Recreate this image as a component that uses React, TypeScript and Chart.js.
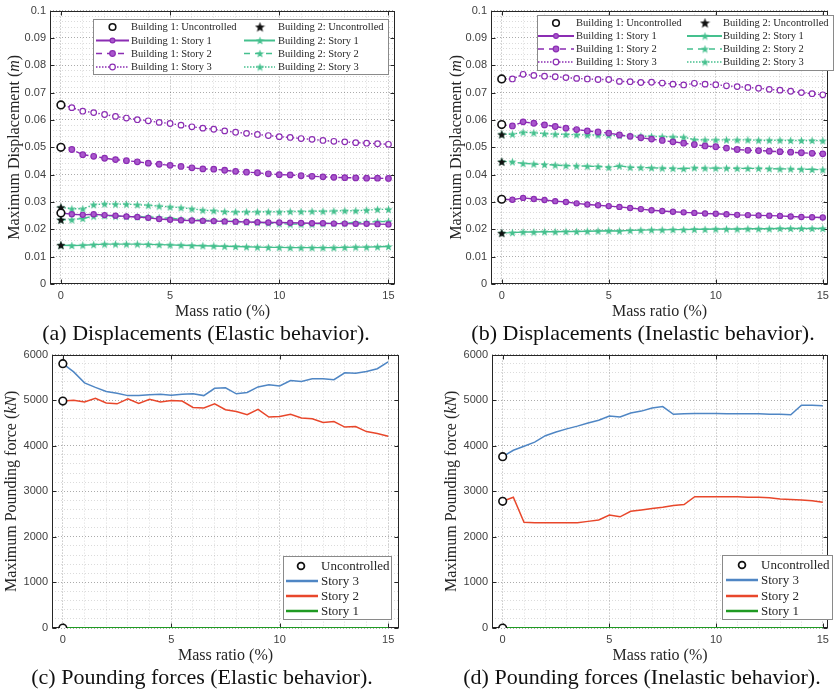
import React, { useEffect, useRef } from 'react';
import { Chart, registerables } from 'chart.js';

Chart.register(...registerables);

// ---------------- data ----------------
const MASS_RATIO = [0, 0.5, 1, 1.5, 2, 2.5, 3, 3.5, 4, 4.5, 5, 5.5, 6, 6.5, 7, 7.5, 8, 8.5, 9, 9.5, 10, 10.5, 11, 11.5, 12, 12.5, 13, 13.5, 14, 14.5, 15];
const X_TICKS = [0, 1, 2, 3, 4, 5, 6, 7, 8, 9, 10, 11, 12, 13, 14, 15];
const DISP_MAJOR_TICKS = [0, 0.01, 0.02, 0.03, 0.04, 0.05, 0.06, 0.07, 0.08, 0.09, 0.1];
const FORCE_MAJOR_TICKS = [0, 1000, 2000, 3000, 4000, 5000, 6000];

// (a) Displacements, elastic
const A_B1_UNC = [0.0655, 0.05, 0.026];
const A_B2_UNC = [0.028, 0.0235, 0.0142];
const A_B1_S1 = [0.0260, 0.0255, 0.0253, 0.0255, 0.0252, 0.0250, 0.0247, 0.0245, 0.0242, 0.0238, 0.0235, 0.0233, 0.0232, 0.0231, 0.0230, 0.0229, 0.0228, 0.0227, 0.0226, 0.0225, 0.0225, 0.0224, 0.0223, 0.0222, 0.0222, 0.0221, 0.0221, 0.0220, 0.0220, 0.0219, 0.0218];
const A_B1_S2 = [0.0500, 0.0492, 0.0473, 0.0467, 0.0460, 0.0455, 0.0451, 0.0447, 0.0442, 0.0438, 0.0434, 0.0430, 0.0425, 0.0421, 0.0420, 0.0416, 0.0412, 0.0409, 0.0407, 0.0403, 0.0400, 0.0399, 0.0396, 0.0394, 0.0392, 0.0390, 0.0389, 0.0388, 0.0387, 0.0387, 0.0386];
const A_B1_S3 = [0.0655, 0.0645, 0.0632, 0.0627, 0.0620, 0.0613, 0.0607, 0.0601, 0.0597, 0.0591, 0.0587, 0.0581, 0.0575, 0.0570, 0.0566, 0.0560, 0.0555, 0.0551, 0.0547, 0.0543, 0.0539, 0.0536, 0.0532, 0.0529, 0.0525, 0.0522, 0.0520, 0.0517, 0.0515, 0.0513, 0.0511];
const A_B2_S1 = [0.0142, 0.0141, 0.0142, 0.0144, 0.0146, 0.0146, 0.0146, 0.0146, 0.0145, 0.0144, 0.0143, 0.0142, 0.0141, 0.0140, 0.0139, 0.0138, 0.0137, 0.0136, 0.0135, 0.0134, 0.0134, 0.0133, 0.0133, 0.0133, 0.0133, 0.0133, 0.0134, 0.0135, 0.0135, 0.0136, 0.0137];
const A_B2_S2 = [0.0235, 0.0235, 0.0240, 0.0248, 0.0250, 0.0248, 0.0247, 0.0246, 0.0245, 0.0243, 0.0240, 0.0237, 0.0235, 0.0233, 0.0232, 0.0230, 0.0229, 0.0227, 0.0225, 0.0223, 0.0221, 0.0219, 0.0219, 0.0219, 0.0221, 0.0222, 0.0223, 0.0224, 0.0226, 0.0228, 0.0229];
const A_B2_S3 = [0.0280, 0.0275, 0.0275, 0.0290, 0.0293, 0.0292, 0.0292, 0.0290, 0.0288, 0.0285, 0.0282, 0.0279, 0.0275, 0.0270, 0.0268, 0.0265, 0.0264, 0.0264, 0.0264, 0.0264, 0.0264, 0.0265, 0.0265, 0.0266, 0.0266, 0.0267, 0.0268, 0.0268, 0.0270, 0.0273, 0.0273];

// (b) Displacements, inelastic
const B_B1_UNC = [0.075, 0.0583, 0.031];
const B_B2_UNC = [0.0547, 0.0447, 0.0186];
const B_B1_S1 = [0.0310, 0.0308, 0.0315, 0.0311, 0.0307, 0.0303, 0.0300, 0.0295, 0.0291, 0.0288, 0.0285, 0.0282, 0.0278, 0.0274, 0.0270, 0.0267, 0.0264, 0.0262, 0.0260, 0.0258, 0.0257, 0.0255, 0.0253, 0.0252, 0.0251, 0.0250, 0.0249, 0.0247, 0.0245, 0.0244, 0.0243];
const B_B1_S2 = [0.0582, 0.0578, 0.0593, 0.0588, 0.0582, 0.0576, 0.0570, 0.0565, 0.0560, 0.0556, 0.0552, 0.0545, 0.0540, 0.0535, 0.0530, 0.0525, 0.0520, 0.0515, 0.0510, 0.0505, 0.0502, 0.0497, 0.0492, 0.0489, 0.0488, 0.0486, 0.0484, 0.0482, 0.0480, 0.0478, 0.0476];
const B_B1_S3 = [0.0750, 0.0750, 0.0767, 0.0763, 0.0760, 0.0758, 0.0755, 0.0752, 0.0750, 0.0748, 0.0748, 0.0741, 0.0740, 0.0737, 0.0738, 0.0735, 0.0731, 0.0728, 0.0734, 0.0731, 0.0729, 0.0725, 0.0722, 0.0719, 0.0716, 0.0712, 0.0709, 0.0705, 0.0700, 0.0696, 0.0692];
const B_B2_S1 = [0.0187, 0.0188, 0.0190, 0.0190, 0.0191, 0.0191, 0.0192, 0.0192, 0.0193, 0.0194, 0.0195, 0.0194, 0.0196, 0.0197, 0.0198, 0.0198, 0.0199, 0.0199, 0.0200, 0.0200, 0.0201, 0.0201, 0.0201, 0.0202, 0.0202, 0.0202, 0.0203, 0.0203, 0.0203, 0.0203, 0.0203];
const B_B2_S2 = [0.0448, 0.0447, 0.0441, 0.0439, 0.0437, 0.0435, 0.0433, 0.0432, 0.0431, 0.0430, 0.0427, 0.0432, 0.0427, 0.0426, 0.0425, 0.0424, 0.0423, 0.0422, 0.0425, 0.0424, 0.0424, 0.0424, 0.0423, 0.0423, 0.0423, 0.0422, 0.0421, 0.0421, 0.0420, 0.0419, 0.0418];
const B_B2_S3 = [0.0548, 0.0548, 0.0555, 0.0553, 0.0550, 0.0548, 0.0547, 0.0546, 0.0545, 0.0545, 0.0544, 0.0543, 0.0542, 0.0541, 0.0540, 0.0539, 0.0538, 0.0537, 0.0528, 0.0527, 0.0527, 0.0527, 0.0527, 0.0527, 0.0526, 0.0526, 0.0526, 0.0525, 0.0525, 0.0525, 0.0524];

// (c) Pounding forces, elastic (kN)
const C_UNC = [5800, 4980, 0];
const C_S3 = [5800, 5620, 5380, 5280, 5190, 5150, 5100, 5100, 5120, 5130, 5110, 5130, 5140, 5100, 5260, 5270, 5140, 5170, 5290, 5340, 5310, 5430, 5410, 5470, 5470, 5450, 5600, 5590, 5630, 5690, 5840];
const C_S2 = [4980, 5000, 4960, 5040, 4940, 4920, 5030, 4930, 5020, 4960, 4990, 4980, 4840, 4830, 4920, 4790, 4750, 4680, 4800, 4630, 4640, 4690, 4610, 4590, 4510, 4530, 4410, 4420, 4310, 4270, 4210];
const C_S1 = [0, 0, 0, 0, 0, 0, 0, 0, 0, 0, 0, 0, 0, 0, 0, 0, 0, 0, 0, 0, 0, 0, 0, 0, 0, 0, 0, 0, 0, 0, 0];

// (d) Pounding forces, inelastic (kN)
const D_UNC = [3760, 2780, 0];
const D_S3 = [3760, 3900, 3990, 4080, 4220, 4300, 4370, 4430, 4500, 4560, 4650, 4630, 4720, 4760, 4830, 4860, 4690, 4700, 4710, 4710, 4710, 4700, 4700, 4700, 4700, 4690, 4690, 4680, 4890, 4890, 4880];
const D_S2 = [2780, 2870, 2320, 2310, 2310, 2310, 2310, 2310, 2340, 2370, 2480, 2440, 2560, 2590, 2620, 2650, 2690, 2710, 2880, 2880, 2880, 2880, 2880, 2870, 2870, 2860, 2830, 2820, 2810, 2790, 2760];
const D_S1 = [0, 0, 0, 0, 0, 0, 0, 0, 0, 0, 0, 0, 0, 0, 0, 0, 0, 0, 0, 0, 0, 0, 0, 0, 0, 0, 0, 0, 0, 0, 0];

// ---------------- styles ----------------
const SERIF = '"Times New Roman", "Liberation Serif", Times, serif';
const SANS = '"Liberation Sans", Arial, Helvetica, sans-serif';
const PURPLE = '#8b2db3';
const PURPLE_FILL = '#a957cc';
const GREEN = '#45c08e';
const BLUE = '#4f86c4';
const RED = '#e8472b';
const DGREEN = '#1f9a22';
const INK = '#262626';
const TICK_COLOR = '#404040';
const MAJOR_GRID = 'rgba(0,0,0,0.33)';
const MINOR_GRID = 'rgba(0,0,0,0.14)';

function makeStar(size: number, fill: string): HTMLCanvasElement {
  const c = document.createElement('canvas');
  c.width = size;
  c.height = size;
  const ctx = c.getContext('2d')!;
  const cx = size / 2;
  const cy = size / 2 + 0.4;
  const R = size / 2 - 0.2;
  const r = R * 0.42;
  ctx.beginPath();
  for (let i = 0; i < 10; i++) {
    const ang = -Math.PI / 2 + (i * Math.PI) / 5;
    const rad = i % 2 === 0 ? R : r;
    ctx.lineTo(cx + rad * Math.cos(ang), cy + rad * Math.sin(ang));
  }
  ctx.closePath();
  ctx.fillStyle = fill;
  ctx.fill();
  return c;
}

function minorTicks(majors: number[], sub: number): number[] {
  const out: number[] = [];
  for (let i = 0; i < majors.length; i++) {
    out.push(majors[i]);
    if (i < majors.length - 1) {
      const step = (majors[i + 1] - majors[i]) / sub;
      for (let k = 1; k < sub; k++) out.push(+(majors[i] + k * step).toFixed(6));
    }
  }
  return out;
}

function isIn(v: number, list: number[]) {
  return list.some((m) => Math.abs(m - v) < 1e-9);
}

function series(ys: number[]) {
  return MASS_RATIO.map((x, i) => ({ x, y: ys[i] }));
}
function atZero(ys: number[]) {
  return ys.map((y) => ({ x: MASS_RATIO[0], y }));
}

// -------------- plugins (per chart) --------------
function framePlugin(xMajor: number[], yMajor: number[]) {
  return {
    id: 'frame',
    beforeDatasetsDraw(chart: any) {
      const { ctx, chartArea: a, scales } = chart;
      ctx.save();
      ctx.strokeStyle = INK;
      ctx.lineWidth = 1;
      const L = Math.round(a.left) + 0.5;
      const T = Math.round(a.top) + 0.5;
      const R = Math.round(a.right) - 0.5;
      const B = Math.round(a.bottom) - 0.5;
      ctx.strokeRect(L, T, R - L, B - T);
      ctx.beginPath();
      const tl = 4;
      xMajor.forEach((v) => {
        const px = Math.round(scales.x.getPixelForValue(v)) + 0.5;
        ctx.moveTo(px, B);
        ctx.lineTo(px, B - tl);
        ctx.moveTo(px, T);
        ctx.lineTo(px, T + tl);
      });
      yMajor.forEach((v) => {
        const py = Math.round(scales.y.getPixelForValue(v)) + 0.5;
        ctx.moveTo(L, py);
        ctx.lineTo(L + tl, py);
        ctx.moveTo(R, py);
        ctx.lineTo(R - tl, py);
      });
      ctx.stroke();
      ctx.restore();
    },
  };
}

type Part = { t: string; i?: boolean };
function yTitlePlugin(parts: Part[], cx: number) {
  return {
    id: 'ytitle',
    afterDraw(chart: any) {
      const { ctx, chartArea: a } = chart;
      ctx.save();
      ctx.translate(cx, (a.top + a.bottom) / 2);
      ctx.rotate(-Math.PI / 2);
      ctx.textBaseline = 'middle';
      ctx.textAlign = 'left';
      ctx.fillStyle = INK;
      const fonts = parts.map((p) => `${p.i ? 'italic ' : ''}16px ${SERIF}`);
      let total = 0;
      parts.forEach((p, k) => {
        ctx.font = fonts[k];
        total += ctx.measureText(p.t).width;
      });
      let x = -total / 2;
      parts.forEach((p, k) => {
        ctx.font = fonts[k];
        ctx.fillText(p.t, x, 0);
        x += ctx.measureText(p.t).width;
      });
      ctx.restore();
    },
  };
}

type LegItem = {
  text: string;
  col: number;
  row: number;
  color?: string;
  lw?: number;
  dash?: number[];
  marker?: 'circle' | HTMLCanvasElement;
  r?: number;
  fill?: string;
  stroke?: string;
  bw?: number;
};
type LegSpec = {
  box: [number, number, number, number];
  rows: number[];
  cols: { s0: number; s1: number; m: number; t: number }[];
  font: number;
  items: LegItem[];
};
function legendPlugin(spec: LegSpec) {
  return {
    id: 'boxlegend',
    afterDatasetsDraw(chart: any) {
      const ctx = chart.ctx;
      const [bx, by, bw, bh] = spec.box;
      ctx.save();
      ctx.fillStyle = '#ffffff';
      ctx.fillRect(bx, by, bw, bh);
      ctx.strokeStyle = '#8a8a8a';
      ctx.lineWidth = 1;
      ctx.strokeRect(bx + 0.5, by + 0.5, bw, bh);
      ctx.font = `${spec.font}px ${SERIF}`;
      ctx.textBaseline = 'middle';
      ctx.textAlign = 'left';
      spec.items.forEach((it) => {
        const c = spec.cols[it.col];
        const y = spec.rows[it.row];
        if (it.lw) {
          ctx.save();
          ctx.strokeStyle = it.color;
          ctx.lineWidth = it.lw;
          ctx.setLineDash(it.dash || []);
          ctx.beginPath();
          ctx.moveTo(c.s0, y);
          ctx.lineTo(c.s1, y);
          ctx.stroke();
          ctx.restore();
        }
        if (it.marker === 'circle') {
          ctx.save();
          ctx.beginPath();
          ctx.arc(c.m, y, it.r || 3, 0, Math.PI * 2);
          ctx.fillStyle = it.fill || '#fff';
          ctx.fill();
          ctx.lineWidth = it.bw || 1.2;
          ctx.strokeStyle = it.stroke || INK;
          ctx.stroke();
          ctx.restore();
        } else if (it.marker) {
          const img = it.marker as HTMLCanvasElement;
          ctx.drawImage(img, c.m - img.width / 2, y - img.height / 2);
        }
        ctx.fillStyle = INK;
        ctx.fillText(it.text, c.t, y + 0.5);
      });
      ctx.restore();
    },
  };
}

// -------------- chart config builder --------------
type PanelCfg = {
  datasets: any[];
  xMax: number;
  yMax: number;
  yMajor: number[];
  yTicks: number[];
  yFmt: (v: number) => string;
  yAxisWidth: number;
  padRight: number;
  yTitle: Part[];
  yTitleX: number;
  legend: LegSpec;
};

function buildConfig(p: PanelCfg): any {
  return {
    type: 'scatter',
    data: { datasets: p.datasets },
    plugins: [framePlugin([0, 5, 10, 15], p.yMajor), legendPlugin(p.legend), yTitlePlugin(p.yTitle, p.yTitleX)],
    options: {
      animation: false,
      responsive: false,
      maintainAspectRatio: false,
      events: [],
      layout: { padding: { top: 10, right: p.padRight, left: 0, bottom: 0 } },
      plugins: { legend: { display: false }, tooltip: { enabled: false } },
      scales: {
        x: {
          type: 'linear',
          min: -0.5,
          max: p.xMax,
          afterBuildTicks: (s: any) => {
            s.ticks = X_TICKS.map((v) => ({ value: v }));
          },
          afterFit: (s: any) => {
            s.height = 38;
          },
          ticks: {
            autoSkip: false,
            maxRotation: 0,
            padding: 5,
            color: TICK_COLOR,
            font: { family: SANS, size: 11 },
            callback: (v: number) => (isIn(v, [0, 5, 10, 15]) ? String(v) : ''),
          },
          grid: {
            drawTicks: false,
            lineWidth: 1,
            color: (c: any) => (c.tick && isIn(c.tick.value, [0, 5, 10, 15]) ? MAJOR_GRID : MINOR_GRID),
          },
          border: { display: false, dash: [1, 2] },
          title: {
            display: true,
            text: 'Mass ratio (%)',
            color: INK,
            font: { family: SERIF, size: 16 },
            padding: { top: 0, bottom: 1 },
          },
        },
        y: {
          type: 'linear',
          min: 0,
          max: p.yMax,
          afterBuildTicks: (s: any) => {
            s.ticks = p.yTicks.map((v) => ({ value: v }));
          },
          afterFit: (s: any) => {
            s.width = p.yAxisWidth;
          },
          ticks: {
            autoSkip: false,
            padding: 4,
            color: TICK_COLOR,
            font: { family: SANS, size: 11 },
            callback: (v: number) => (isIn(v, p.yMajor) ? p.yFmt(v) : ''),
          },
          grid: {
            drawTicks: false,
            lineWidth: 1,
            color: (c: any) => (c.tick && isIn(c.tick.value, p.yMajor) ? MAJOR_GRID : MINOR_GRID),
          },
          border: { display: false, dash: [1, 2] },
          title: { display: false },
        },
      },
    },
  };
}

function lineDs(label: string, ys: number[], color: string, dash: number[], marker: any, fill: string, radius: number, width = 1.4) {
  return {
    label,
    data: series(ys),
    showLine: true,
    borderColor: color,
    backgroundColor: color,
    borderWidth: width,
    borderDash: dash,
    pointStyle: marker,
    pointRadius: radius,
    pointBackgroundColor: fill,
    pointBorderColor: color,
    pointBorderWidth: 1.2,
    tension: 0,
    fill: false,
  };
}
function uncCircle(label: string, ys: number[], r = 3.8) {
  return {
    label,
    data: atZero(ys),
    showLine: false,
    pointStyle: 'circle',
    pointRadius: r,
    pointBorderWidth: 1.6,
    pointBorderColor: '#111',
    pointBackgroundColor: '#ffffff',
  };
}
function uncStar(label: string, ys: number[], star: HTMLCanvasElement) {
  return {
    label,
    data: atZero(ys),
    showLine: false,
    pointStyle: star,
    pointRadius: 4,
    pointBorderColor: '#111',
    pointBackgroundColor: '#111',
  };
}

const DOTTED = [1.5, 2];
const DASHED = [5, 3];

function dispPanel(which: 'a' | 'b'): any {
  const gStar = makeStar(9, GREEN);
  const kStar = makeStar(10, '#111');
  const gStarL = makeStar(9, GREEN);
  const kStarL = makeStar(11, '#111');
  const a = which === 'a';
  const B1U = a ? A_B1_UNC : B_B1_UNC;
  const B2U = a ? A_B2_UNC : B_B2_UNC;
  const datasets = [
    uncCircle('Building 1: Uncontrolled', B1U),
    uncStar('Building 2: Uncontrolled', B2U, kStar),
    lineDs('Building 1: Story 1', a ? A_B1_S1 : B_B1_S1, PURPLE, [], 'circle', PURPLE_FILL, 2.6),
    lineDs('Building 1: Story 2', a ? A_B1_S2 : B_B1_S2, PURPLE, DASHED, 'circle', PURPLE_FILL, 2.8),
    lineDs('Building 1: Story 3', a ? A_B1_S3 : B_B1_S3, PURPLE, DOTTED, 'circle', '#ffffff', 2.8),
    lineDs('Building 2: Story 1', a ? A_B2_S1 : B_B2_S1, GREEN, [], gStar, GREEN, 4),
    lineDs('Building 2: Story 2', a ? A_B2_S2 : B_B2_S2, GREEN, DASHED, gStar, GREEN, 4),
    lineDs('Building 2: Story 3', a ? A_B2_S3 : B_B2_S3, GREEN, DOTTED, gStar, GREEN, 4),
  ];
  const legend: LegSpec = a
    ? {
        box: [93, 19, 295, 55],
        rows: [27, 40.5, 53.5, 67],
        cols: [
          { s0: 96, s1: 129, m: 112.5, t: 131 },
          { s0: 244, s1: 275, m: 260, t: 278 },
        ],
        font: 10.5,
        items: [],
      }
    : {
        box: [117, 15, 296, 55],
        rows: [23, 36, 49, 62],
        cols: [
          { s0: 118, s1: 154, m: 136, t: 156 },
          { s0: 267, s1: 302, m: 285, t: 303 },
        ],
        font: 10.5,
        items: [],
      };
  legend.items = [
    { text: datasets[0].label, col: 0, row: 0, marker: 'circle', r: 3.3, fill: '#fff', stroke: '#111', bw: 1.6 },
    { text: datasets[2].label, col: 0, row: 1, color: PURPLE, lw: 2, marker: 'circle', r: 2.4, fill: PURPLE_FILL, stroke: PURPLE },
    { text: datasets[3].label, col: 0, row: 2, color: PURPLE, lw: 1.6, dash: [6, 5], marker: 'circle', r: 2.8, fill: PURPLE_FILL, stroke: PURPLE },
    { text: datasets[4].label, col: 0, row: 3, color: PURPLE, lw: 1.4, dash: [1.5, 1.5], marker: 'circle', r: 2.8, fill: '#fff', stroke: PURPLE },
    { text: datasets[1].label, col: 1, row: 0, marker: kStarL },
    { text: datasets[5].label, col: 1, row: 1, color: GREEN, lw: 2, marker: gStarL },
    { text: datasets[6].label, col: 1, row: 2, color: GREEN, lw: 1.6, dash: [6, 5], marker: gStarL },
    { text: datasets[7].label, col: 1, row: 3, color: GREEN, lw: 1.4, dash: [1.5, 1.5], marker: gStarL },
  ];
  return buildConfig({
    datasets,
    xMax: a ? 15.3 : 15.25,
    yMax: 0.1,
    yMajor: DISP_MAJOR_TICKS,
    yTicks: minorTicks(DISP_MAJOR_TICKS, 5),
    yFmt: (v) => String(Math.round(v * 100) / 100),
    yAxisWidth: a ? 50 : 71,
    padRight: a ? 25 : 2,
    yTitle: [{ t: 'Maximum Displacement (' }, { t: 'm', i: true }, { t: ')' }],
    yTitleX: a ? 15 : 37,
    legend,
  });
}

function forcePanel(which: 'c' | 'd'): any {
  const c = which === 'c';
  const datasets = [
    uncCircle('Uncontrolled', c ? C_UNC : D_UNC, 3.8),
    { ...lineDs('Story 3', c ? C_S3 : D_S3, BLUE, [], 'circle', BLUE, 0, 1.5) },
    { ...lineDs('Story 2', c ? C_S2 : D_S2, RED, [], 'circle', RED, 0, 1.5) },
    { ...lineDs('Story 1', c ? C_S1 : D_S1, DGREEN, [], 'circle', DGREEN, 0, 1.8) },
  ];
  const legend: LegSpec = c
    ? {
        box: [283, 212, 108, 63],
        rows: [222, 237, 252, 267],
        cols: [{ s0: 286, s1: 318, m: 301, t: 321 }],
        font: 13,
        items: [],
      }
    : {
        box: [302, 211, 110, 64],
        rows: [221, 236, 252, 267],
        cols: [{ s0: 306, s1: 338, m: 322, t: 341 }],
        font: 13,
        items: [],
      };
  legend.items = [
    { text: datasets[0].label, col: 0, row: 0, marker: 'circle', r: 3.4, fill: '#fff', stroke: '#111', bw: 1.8 },
    { text: datasets[1].label, col: 0, row: 1, color: BLUE, lw: 2.5 },
    { text: datasets[2].label, col: 0, row: 2, color: RED, lw: 2.5 },
    { text: datasets[3].label, col: 0, row: 3, color: DGREEN, lw: 2.5 },
  ];
  return buildConfig({
    datasets,
    xMax: c ? 15.5 : 15.25,
    yMax: 6000,
    yMajor: FORCE_MAJOR_TICKS,
    yTicks: minorTicks(FORCE_MAJOR_TICKS, 5),
    yFmt: (v) => String(v),
    yAxisWidth: c ? 52 : 72,
    padRight: c ? 21 : 1,
    yTitle: [{ t: 'Maximum Pounding force (' }, { t: 'kN', i: true }, { t: ')' }],
    yTitleX: c ? 12 : 32,
    legend,
  });
}

function Panel(props: { left: number; top: number; width: number; height: number; build: () => any }) {
  const ref = useRef<HTMLCanvasElement | null>(null);
  useEffect(() => {
    const chart = new Chart(ref.current as HTMLCanvasElement, props.build());
    return () => chart.destroy();
  }, []);
  return (
    <canvas
      ref={ref}
      width={props.width}
      height={props.height}
      style={{ position: 'absolute', left: props.left, top: props.top, width: props.width, height: props.height }}
    />
  );
}

function Caption(props: { cx: number; top: number; text: string }) {
  return (
    <div
      style={{
        position: 'absolute',
        left: props.cx - 220,
        top: props.top,
        width: 440,
        textAlign: 'center',
        fontFamily: SERIF,
        fontSize: 22,
        lineHeight: '22px',
        color: '#111',
        whiteSpace: 'nowrap',
      }}
    >
      {props.text}
    </div>
  );
}

export default function App() {
  return (
    <div style={{ position: 'absolute', left: 0, top: 0, width: 834, height: 692, background: '#fff', overflow: 'hidden' }}>
      <Panel left={0} top={0} width={420} height={322} build={() => dispPanel('a')} />
      <Panel left={420} top={0} width={414} height={322} build={() => dispPanel('b')} />
      <Panel left={0} top={344} width={420} height={322} build={() => forcePanel('c')} />
      <Panel left={420} top={344} width={414} height={322} build={() => forcePanel('d')} />
      <Caption cx={206} top={322} text="(a) Displacements (Elastic behavior)." />
      <Caption cx={643} top={322} text="(b) Displacements (Inelastic behavior)." />
      <Caption cx={202} top={666} text="(c) Pounding forces (Elastic behavior)." />
      <Caption cx={642} top={666} text="(d) Pounding forces (Inelastic behavior)." />
    </div>
  );
}
